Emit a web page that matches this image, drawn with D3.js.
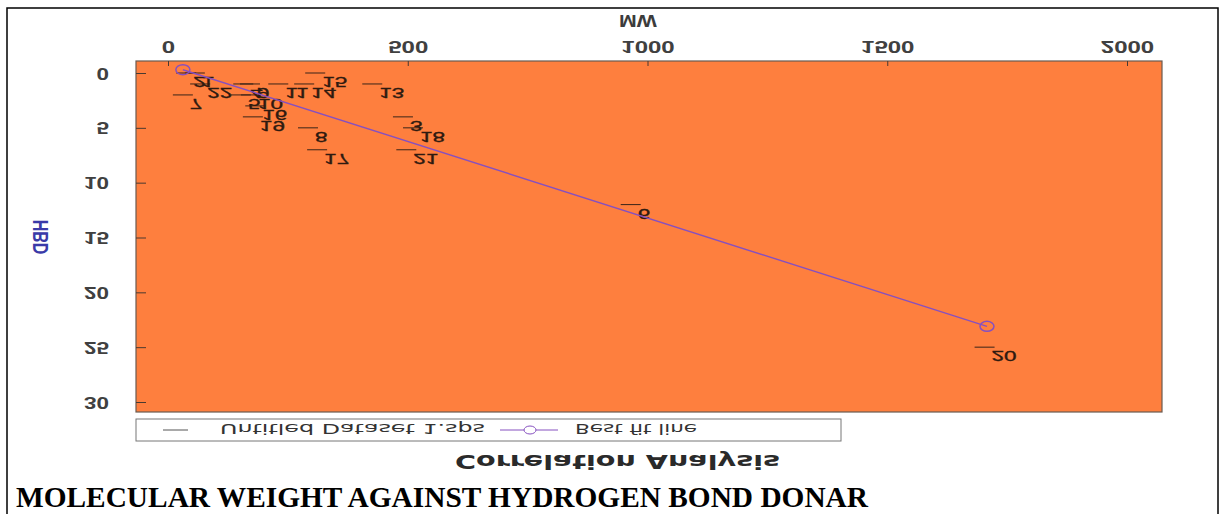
<!DOCTYPE html>
<html><head><meta charset="utf-8">
<script src="https://cdn.jsdelivr.net/npm/d3@7"></script>
<style>body{margin:0;background:#fff}svg{display:block}</style>
</head><body><svg id="c" width="1225" height="514"></svg>
<script>
// Data (the reference picture is mirrored top-to-bottom; text is flipped to match)
const pointLabels = ["2","1","22","7","4","9","5","10","16","19","11","14","15","13","8","17","3","18","21","6","20"];
const pointMW     = [38, 56, 67, 31, 157, 171, 152, 173, 182, 177, 230, 284, 307, 426, 292, 311, 490, 511, 497, 965, 1703];
const pointHBD    = [0, 0, 1, 2, 1, 1, 2, 2, 3, 4, 1, 1, 0, 1, 5, 7, 4, 5, 7, 12, 25];
const fitMW  = [31, 1708];
const fitHBD = [-0.3, 23.1];
const xTicks = [0, 500, 1000, 1500, 2000];
const yTicks = [0, 5, 10, 15, 20, 25, 30];
const xTitle = "MW", yTitle = "HBD";
const chartTitle = "Correlation Analysis";
const legendLabels = ["Untitled Dataset 1.sps", "Best fit line"];
const caption = "MOLECULAR WEIGHT AGAINST HYDROGEN BOND DONAR";

const svg = d3.select("#c");
const P = {l:136, r:1162, t:61, b:412};
const x = d3.scaleLinear().domain([0, 2000]).range([168, 1127]);
const y = d3.scaleLinear().domain([0, 30]).range([73, 402]);
const fitColor = "#8650c0";
const sans = "'Liberation Sans', Arial, sans-serif";
const dj = "'DejaVu Sans', sans-serif";

// page frame
svg.append("rect").attr("x",7).attr("y",8).attr("width",1211).attr("height",530)
  .attr("fill","none").attr("stroke","#000").attr("stroke-width",1.5);

// plot background
svg.append("rect").attr("x",P.l).attr("y",P.t).attr("width",P.r-P.l).attr("height",P.b-P.t)
  .attr("fill","#fe7f3e").attr("stroke","#6a5a50").attr("stroke-width",1.2);

// x axis (top)
const gx = svg.append("g").attr("transform",`translate(0,${P.t})`)
  .call(d3.axisTop(x).tickValues(xTicks).tickFormat(d3.format("d")).tickSizeInner(-5).tickSizeOuter(0));
gx.select(".domain").remove();
gx.selectAll("line").attr("stroke","#4a3a30");
gx.selectAll("text").attr("x",null).attr("y",null).attr("dy",null)
  .attr("transform",`translate(0,${41-P.t}) scale(1.5,-1)`)
  .attr("text-anchor","middle").style("font-family",sans).style("font-size","16px")
  .style("font-weight","bold").attr("fill","#404040");

// y axis (left)
const gy = svg.append("g").attr("transform",`translate(${P.l},0)`)
  .call(d3.axisLeft(y).tickValues(yTicks).tickFormat(d3.format("d")).tickSizeInner(-10).tickSizeOuter(0));
gy.select(".domain").remove();
gy.selectAll("line").attr("stroke","#4a3a30");
gy.selectAll("text").attr("x",null).attr("y",null).attr("dy",null)
  .attr("transform",`translate(${109-P.l},-6) scale(1.4,-1)`)
  .attr("text-anchor","end").style("font-family",sans).style("font-size","16px")
  .style("font-weight","bold").attr("fill","#404040");

// axis titles
svg.append("text").text(xTitle).attr("transform","translate(638,15) scale(1.25,-1)")
  .attr("text-anchor","middle").style("font-family",sans).style("font-size","17px")
  .style("font-weight","bold").attr("fill","#3c3c3c");
svg.append("text").text(yTitle).attr("transform","translate(48,237) scale(1.35,-1) rotate(-90)")
  .attr("text-anchor","middle").style("font-family",sans).style("font-size","16px")
  .style("font-weight","bold").attr("fill","#3a3aa8");

// data points: dash markers + labels
const pts = pointLabels.map((l,i)=>({l, mw:pointMW[i], hbd:pointHBD[i]}));
const gp = svg.append("g");
gp.selectAll("line.m").data(pts).join("line").attr("class","m")
  .attr("x1",d=>x(d.mw)-10).attr("x2",d=>x(d.mw)+10)
  .attr("y1",d=>y(d.hbd)).attr("y2",d=>y(d.hbd))
  .attr("stroke","#3a2418").attr("stroke-width",1);
gp.selectAll("text").data(pts).join("text").text(d=>d.l)
  .attr("transform",d=>`translate(${x(d.mw)+7},${y(d.hbd)+4}) scale(1.5,-1)`)
  .style("font-family",sans).style("font-size","15px")
  .attr("fill","#2e1a10").attr("stroke","#2e1a10").attr("stroke-width",0.35);

// best fit line
const fit = fitMW.map((m,i)=>[m, fitHBD[i]]);
svg.append("path").datum(fit).attr("d", d3.line().x(d=>x(d[0])).y(d=>y(d[1])))
  .attr("fill","none").attr("stroke",fitColor).attr("stroke-width",1.4);
svg.selectAll("ellipse.f").data(fit).join("ellipse").attr("class","f")
  .attr("cx",d=>x(d[0])).attr("cy",d=>y(d[1])).attr("rx",7).attr("ry",5)
  .attr("fill","none").attr("stroke",fitColor).attr("stroke-width",1.5);

// legend
const lg = svg.append("g");
lg.append("rect").attr("x",136).attr("y",419).attr("width",705).attr("height",22)
  .attr("fill","#fff").attr("stroke","#777");
lg.append("line").attr("x1",163).attr("x2",188).attr("y1",430).attr("y2",430).attr("stroke","#555");
lg.append("text").text(legendLabels[0]).attr("transform","translate(220,424) scale(1,-1)")
  .attr("textLength",265).attr("lengthAdjust","spacingAndGlyphs")
  .style("font-family",dj).style("font-size","14px").attr("fill","#333");
lg.append("line").attr("x1",500).attr("x2",558).attr("y1",430).attr("y2",430).attr("stroke",fitColor);
lg.append("ellipse").attr("cx",530).attr("cy",430).attr("rx",6).attr("ry",4)
  .attr("fill","#fff").attr("stroke",fitColor);
lg.append("text").text(legendLabels[1]).attr("transform","translate(575,424) scale(1,-1)")
  .attr("textLength",122).attr("lengthAdjust","spacingAndGlyphs")
  .style("font-family",dj).style("font-size","14px").attr("fill","#333");

// chart title (flipped)
svg.append("text").text(chartTitle).attr("transform","translate(455,455) scale(1,-1)")
  .attr("textLength",325).attr("lengthAdjust","spacingAndGlyphs")
  .style("font-family",dj).style("font-size","19px").style("font-weight","bold").attr("fill","#2a2a2a");

// caption
svg.append("text").text(caption).attr("x",16).attr("y",507)
  .attr("textLength",852).attr("lengthAdjust","spacingAndGlyphs")
  .style("font-family","'Liberation Serif','Times New Roman',serif").style("font-size","30px")
  .style("font-weight","bold").attr("fill","#000");
</script></body></html>
